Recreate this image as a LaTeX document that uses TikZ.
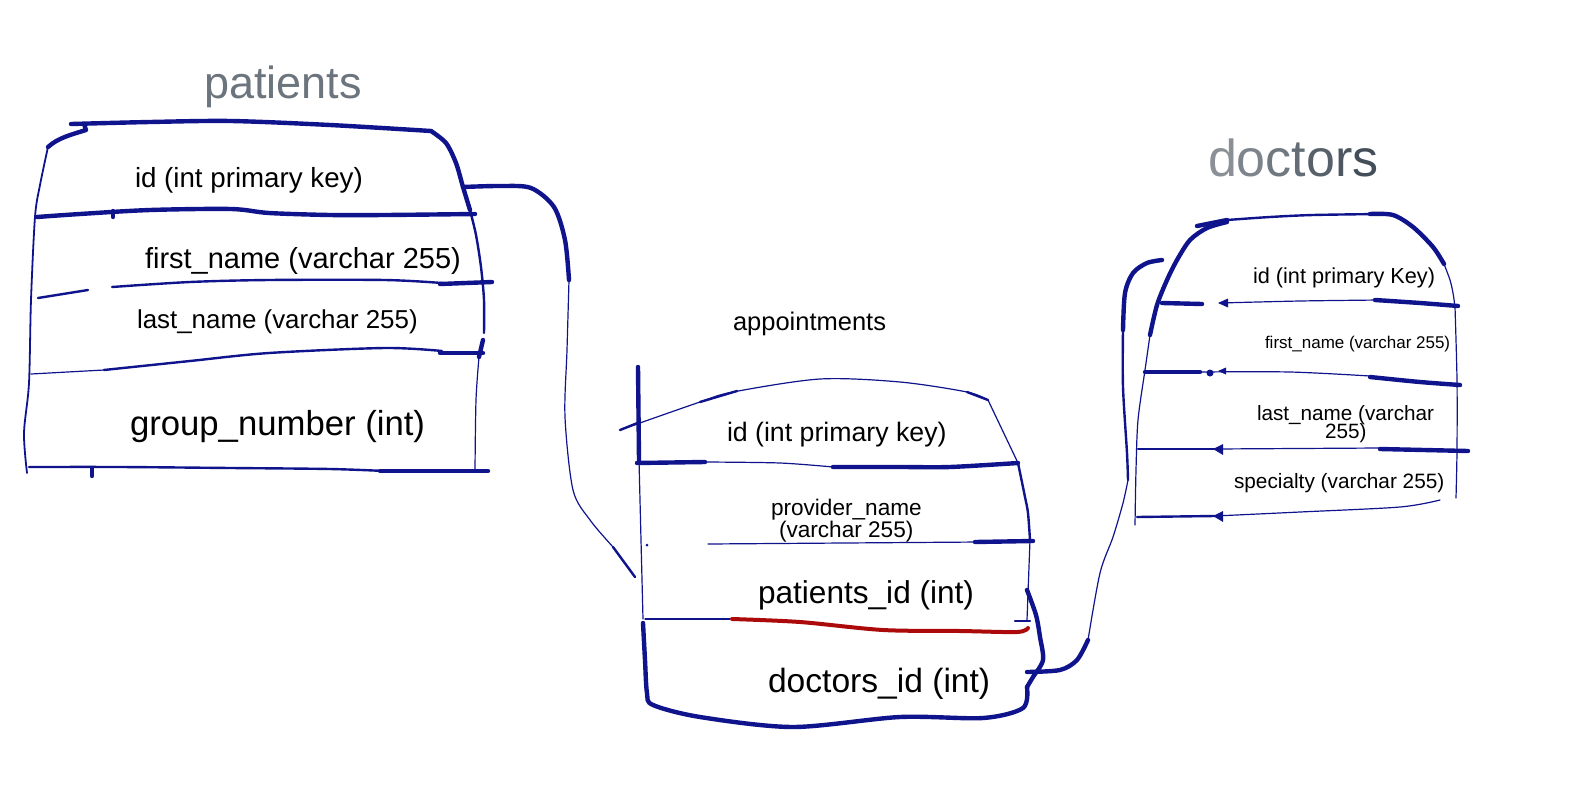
\documentclass[tikz,border=0pt]{standalone}
\usepackage{fontspec}
\setmainfont{Liberation Sans}
\definecolor{ink}{RGB}{16,20,140}
\definecolor{redink}{RGB}{172,10,10}
\definecolor{titlegray}{RGB}{108,117,125}
\definecolor{dg1}{RGB}{138,144,150}
\definecolor{dg2}{RGB}{125,132,139}
\definecolor{dg3}{RGB}{112,120,128}
\definecolor{dg4}{RGB}{100,109,117}
\definecolor{dg5}{RGB}{88,97,106}
\definecolor{dg6}{RGB}{78,87,96}
\definecolor{dg7}{RGB}{68,78,88}
\begin{document}
\begin{tikzpicture}[x=1pt,y=-1pt,
  pen/.style={ink,line width=1.2pt,line cap=round,line join=round},
  penm/.style={ink,line width=2.4pt,line cap=round,line join=round},
  penb/.style={ink,line width=4.4pt,line cap=round,line join=round},
  redpen/.style={redink,line width=4pt,line cap=round,line join=round},
  lbl/.style={anchor=base west,inner sep=0pt,outer sep=0pt},
  fs/.style={font=\fontsize{#1}{#1}\selectfont},
  tip/.style={ink}
]
\useasboundingbox[fill=white] (0,0) rectangle (1591,809);

% ---------------- titles ----------------
\node[lbl,fs=45,text=titlegray] (tpat) at (204,98) {patients};
\node[lbl,fs=25.5] (tapp) at (733,330) {appointments};
\node[lbl,fs=52] (tdoc) at (1208,176) {{\color{dg1}d}{\color{dg2}o}{\color{dg3}c}{\color{dg4}t}{\color{dg5}o}{\color{dg6}r}{\color{dg7}s}};

% ---------------- patients table ----------------
% top edge and hook
\draw[penb] (48,147) .. controls (58,138) and (70,135) .. (86,130) -- (84,124);
\draw[penb] plot[smooth] coordinates {(71,124) (150,122) (231,121) (330,125) (431,131)};
% right edge
\draw[penb] plot[smooth] coordinates {(431,131) (446,143) (456,163) (463,187) (470,210)};
\draw[penm] plot[smooth] coordinates {(470,210) (476,235) (481,267) (484,300) (484,333)};
\draw[penb] (483,340) -- (479,357);
\draw[pen] plot[smooth] coordinates {(479,357) (476,400) (475,470)};
% left edge
\draw[ink,line width=1.8pt,line cap=round] plot[smooth] coordinates {(48,147) (40,185) (35,217) (31,300) (29,383) (24,433) (27,473)};
% row lines
\draw[penb] plot[smooth] coordinates {(37,217) (80,214) (150,210) (231,209) (269,213) (330,215) (385,215) (475,214)};
\draw[penb] (113,211) -- (113,217);
\draw[penm] (38,298) -- (88,290);
\draw[penm] plot[smooth] coordinates {(112,287) (190,282) (269,280) (385,280) (442,283)};
\draw[penb] (440,284) -- (492,282);
\draw[pen] (31,374) -- (104,370);
\draw[penm] plot[smooth] coordinates {(104,370) (190,361) (269,353) (385,348) (442,351)};
\draw[penb] (440,353) -- (483,353);
\draw[penm] plot[smooth] coordinates {(29,467) (120,467) (231,468) (330,469) (385,471)};
\draw[penb] (380,471) -- (488,471);
\draw[penb] (92,468) -- (92,476);
% texts
\node[lbl,fs=27.7] (pid) at (135,187) {id (int primary key)};
\node[lbl,fs=29] (pfn) at (145,268) {first\_name (varchar 255)};
\node[lbl,fs=25.9] (pln) at (137,328) {last\_name (varchar 255)};
\node[lbl,fs=34.7] (pgn) at (130,435) {group\_number (int)};

% ---------------- appointments table ----------------
% left edge
\draw[penb] (638,367) -- (639,460);
\draw[pen] (639,460) -- (641,540) -- (643,619);
\fill[ink] (647,545) circle (1.5pt);
\draw[penb] plot[smooth] coordinates {(643,623) (645,660) (647,693) (653,705) (700,717) (793,727) (900,717) (983,718) (1023,708) (1027,687)};
% top edge
\draw[pen] plot[smooth] coordinates {(620,430) (700,402) (733,392) (820,379) (900,382) (967,392) (988,400)};
\draw[penm] (620,430) -- (640,422);
\draw[penm] (700,402) -- (737,391);
\draw[penm] (967,392) -- (988,400);
\draw[pen] (988,400) -- (1018,463);
% right edge
\draw[penm] plot[smooth] coordinates {(1018,463) (1025,497) (1028,513) (1030,540)};
\draw[pen] (1030,540) -- (1027,620);
\draw[penb] plot[smooth] coordinates {(1027,590) (1036,615) (1040,637) (1043,660) (1033,677) (1027,687)};
% row lines
\draw[penb] (637,463) -- (705,462);
\draw[pen] plot[smooth] coordinates {(705,462) (780,463) (833,467)};
\draw[penb] plot[smooth] coordinates {(833,467) (900,467) (950,467) (1018,463)};
\draw[pen] (708,544) -- (980,542);
\draw[penb] (975,542) -- (1033,541);
\draw[pen] (645,619) -- (730,619);
\draw[redpen] plot[smooth] coordinates {(732,619) (800,622) (883,630) (960,631) (1017,632) (1028,628)};
\draw[penm] (1015,621) -- (1030,621);
% texts
\node[lbl,fs=26.7] (aid) at (727,441) {id (int primary key)};
\node[lbl,fs=22.6] (apn) at (771,515) {provider\_name};
\node[lbl,fs=22.6] (apv) at (779,537) {(varchar 255)};
\node[lbl,fs=31.6] (apid) at (758,603) {patients\_id (int)};
\node[lbl,fs=33.6] (adid) at (768,692) {doctors\_id (int)};

% ---------------- doctors table ----------------
% top edge
\draw[penb] (1197,226) -- (1227,220);
\draw[penm] plot[smooth] coordinates {(1227,220) (1270,217) (1313,215) (1380,214)};
\draw[penb] plot[smooth] coordinates {(1370,214) (1393,215) (1413,227) (1433,247) (1444,264)};
\draw[pen] plot[smooth] coordinates {(1444,264) (1450,280) (1453,293) (1455,307)};
% left edge
\draw[penb] plot[smooth] coordinates {(1227,222) (1207,228) (1190,240) (1177,260) (1167,280) (1157,305) (1150,335)};
\draw[pen] plot[smooth] coordinates {(1150,335) (1145,370) (1138,420) (1136,470) (1135,525)};
% right edge
\draw[pen] plot[smooth] coordinates {(1455,307) (1457,380) (1457,450) (1456,498)};
% row lines
\draw[penb] (1162,303) -- (1202,304);
\draw[pen] plot[smooth] coordinates {(1220,303) (1300,301) (1380,300)};
\draw[penb] plot[smooth] coordinates {(1375,300) (1420,303) (1458,306)};
\fill[tip] (1218,303) -- (1228,298.5) -- (1228,307.5) -- cycle;
\draw[penb] (1145,372) -- (1200,372);
\draw[pen] plot[smooth] coordinates {(1200,372) (1290,372) (1370,376)};
\draw[penb] plot[smooth] coordinates {(1370,377) (1420,382) (1460,385)};
\fill[tip] (1210,373) circle (3.5pt);
\fill[tip] (1218,371) -- (1226,367.5) -- (1226,374.5) -- cycle;
\draw[penm] (1138,449) -- (1215,449);
\draw[pen] (1215,449) -- (1380,448);
\draw[penb] (1380,449) -- (1468,451);
\fill[tip] (1213,449) -- (1223,444) -- (1223,455) -- cycle;
\draw[penm] (1137,517) -- (1215,516);
\draw[pen] plot[smooth] coordinates {(1215,516) (1300,512) (1400,507) (1440,500)};
\fill[tip] (1213,516) -- (1223,511) -- (1223,522) -- cycle;
% texts
\node[lbl,fs=21.7] (did) at (1253,283) {id (int primary Key)};
\node[lbl,fs=17] (dfn) at (1265,348) {first\_name (varchar 255)};
\node[lbl,fs=20.7] (dln) at (1257,420) {last\_name (varchar};
\node[lbl,fs=20.7] (dln2) at (1325,438) {255)};
\node[lbl,fs=20.8] (dsp) at (1234,488) {specialty (varchar 255)};

% ---------------- connectors ----------------
\coordinate (pOut) at (463,187);
\coordinate (aIn) at (635,577);
\draw[penb] plot[smooth] coordinates {(pOut) (500,186) (531,188) (554,207) (565,240) (569,280)};
\draw[pen] plot[smooth] coordinates {(569,280) (567,350) (565,417) (573,490) (590,520) (613,547)};
\draw[penm] (613,547) -- (aIn);

\coordinate (aOut) at (1027,672);
\coordinate (dIn) at (1162,260);
\draw[penb] plot[smooth] coordinates {(aOut) (1060,670) (1077,660) (1088,640)};
\draw[pen] plot[smooth] coordinates {(1088,640) (1100,573) (1113,537) (1123,503) (1128,480)};
\draw[penm] plot[smooth] coordinates {(1128,480) (1127,453) (1123,387) (1123,330)};
\draw[penb] plot[smooth] coordinates {(1123,330) (1125,293) (1133,273) (1147,263) (dIn)};
\end{tikzpicture}
\end{document}
